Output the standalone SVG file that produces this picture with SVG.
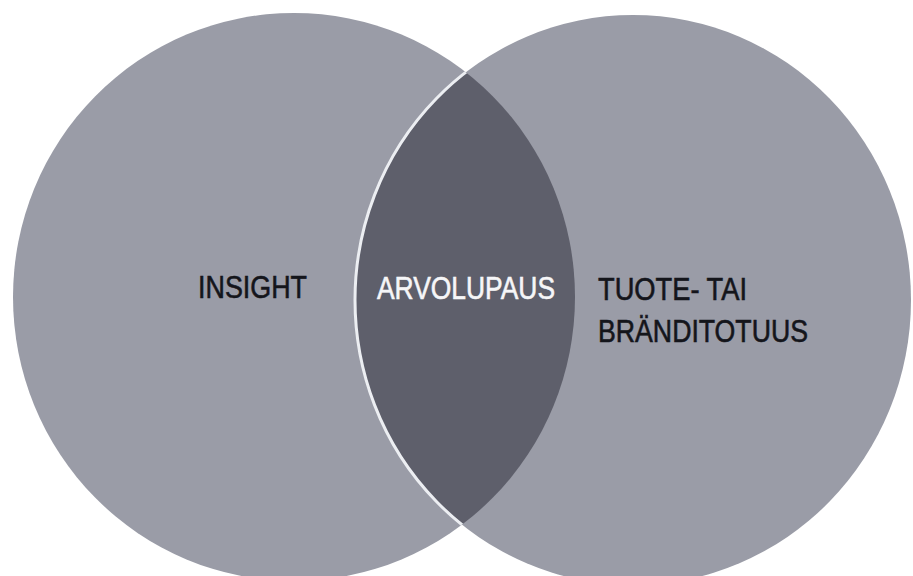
<svg xmlns="http://www.w3.org/2000/svg" width="913" height="576" viewBox="0 0 913 576">
  <style>
    .circle { fill: #9a9ca7; }
    .lens { fill: #5e5f6b; }
    .edge { fill: none; stroke: #eceef2; stroke-width: 3; }
    .label { font-family: "Liberation Sans", Arial, sans-serif; font-size: 32px; stroke-width: 0.6; }
    .dark { fill: #14151b; stroke: #14151b; }
    .light { fill: #f6f6f8; stroke: #f6f6f8; }
  </style>
  <defs>
    <clipPath id="clipLeft">
      <ellipse cx="294" cy="297" rx="281" ry="284"/>
    </clipPath>
  </defs>
  <rect width="913" height="576" fill="#ffffff"/>
  <g id="circle-insight">
    <ellipse class="circle" cx="294" cy="297" rx="281" ry="284"/>
  </g>
  <g id="circle-tuote">
    <ellipse class="circle" cx="633" cy="300" rx="278" ry="285"/>
  </g>
  <g id="overlap-arvolupaus">
    <ellipse class="lens" cx="633" cy="300" rx="278" ry="285" clip-path="url(#clipLeft)"/>
    <ellipse class="edge" cx="633" cy="300" rx="278" ry="285" clip-path="url(#clipLeft)"/>
  </g>
  <g id="labels">
    <text class="label dark" x="198" y="298" textLength="109" lengthAdjust="spacingAndGlyphs">INSIGHT</text>
    <text class="label light" x="377" y="299" textLength="178" lengthAdjust="spacingAndGlyphs">ARVOLUPAUS</text>
    <text class="label dark" x="598" y="300" textLength="149" lengthAdjust="spacingAndGlyphs">TUOTE- TAI</text>
    <text class="label dark" x="598" y="342" textLength="210" lengthAdjust="spacingAndGlyphs">BRÄNDITOTUUS</text>
  </g>
</svg>
